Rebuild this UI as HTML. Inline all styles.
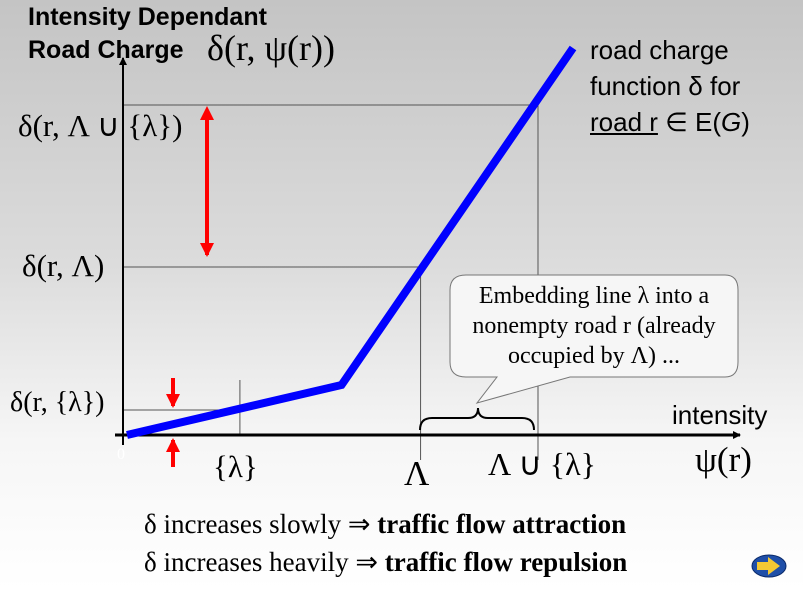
<!DOCTYPE html>
<html><head><meta charset="utf-8"><style>
body{margin:0;}
#slide{position:relative;width:803px;height:589px;overflow:hidden;background:linear-gradient(to bottom,#c4c4c4 0%,#dcdcdc 45%,#f6f6f6 75%,#ffffff 100%);font-family:"Liberation Serif",serif;}
.t{position:absolute;white-space:nowrap;color:#000;}
.sans{font-family:"Liberation Sans",sans-serif;}
</style></head><body>
<div id="slide">
<div class="t sans" style="left:28px;top:3px;font-size:25px;font-weight:bold;">Intensity Dependant</div>
<div class="t sans" style="left:28px;top:36px;font-size:25px;font-weight:bold;">Road Charge</div>
<div class="t" style="left:207px;top:27px;font-size:36px;">δ(r, ψ(r))</div>
<div class="t sans" style="left:590px;top:32px;font-size:26px;line-height:36px;">road charge<br>function δ for<br><u>road r</u> ∈ E(<i>G</i>)</div>
<div class="t" style="left:18px;top:108px;font-size:31px;">δ(r, Λ ∪ {λ})</div>
<div class="t" style="left:22px;top:248px;font-size:31px;">δ(r, Λ)</div>
<div class="t" style="left:10px;top:387px;font-size:28px;">δ(r, {λ})</div>
<div class="t" style="left:117px;top:446px;font-size:16px;color:#fff;">0</div>
<div class="t" style="left:213px;top:449px;font-size:31px;">{λ}</div>
<div class="t" style="left:404px;top:454px;font-size:35px;">Λ</div>
<div class="t" style="left:488px;top:445px;font-size:32px;">Λ ∪ {λ}</div>
<div class="t" style="left:695px;top:440px;font-size:35px;">ψ(r)</div>
<div class="t sans" style="left:672px;top:400px;font-size:26px;">intensity</div>
<div class="t" style="left:144px;top:509px;font-size:27px;">δ increases slowly ⇒ <b>traffic flow attraction</b></div>
<div class="t" style="left:144px;top:547px;font-size:27px;">δ increases heavily ⇒ <b>traffic flow repulsion</b></div>
<svg id="chart" width="803" height="589" style="position:absolute;left:0;top:0">
<defs>
<marker id="ah" markerWidth="8" markerHeight="8" refX="7" refY="4" orient="auto" markerUnits="userSpaceOnUse" viewBox="0 0 8 8"><path d="M0,0L8,4L0,8z" fill="#000"/></marker>
<marker id="rh" markerWidth="14" markerHeight="14" refX="12" refY="7" orient="auto" markerUnits="userSpaceOnUse" viewBox="0 0 14 14"><path d="M0,0L14,7L0,14z" fill="#f00"/></marker>
<marker id="rs" markerWidth="14" markerHeight="14" refX="2" refY="7" orient="auto-start-reverse" markerUnits="userSpaceOnUse" viewBox="0 0 14 14"><path d="M0,0L14,7L0,14z" fill="#f00"/></marker>
</defs>
<g id="guides"></g>
<line x1="123" y1="445" x2="123" y2="58" stroke="#000" stroke-width="2" marker-end="url(#ah)"/>
<line x1="115" y1="435" x2="740" y2="435" stroke="#000" stroke-width="3" marker-end="url(#ah)"/>
<polyline id="curve" fill="none" stroke="#0000ff" stroke-width="8" stroke-linejoin="miter"/>
<line x1="207" y1="118" x2="207" y2="255" stroke="#f00" stroke-width="4" marker-end="url(#rh)" marker-start="url(#rs)"/>
<line x1="173" y1="378" x2="173" y2="406" stroke="#f00" stroke-width="4" marker-end="url(#rh)"/>
<line x1="173" y1="467" x2="173" y2="440" stroke="#f00" stroke-width="4" marker-end="url(#rh)"/>
<path d="M420,430 Q420,418 432,418 L468,418 Q478,418 478,408 Q478,418 488,418 L522,418 Q534,418 534,430" fill="none" stroke="#000" stroke-width="2"/>
<path d="M466,275 L725,275 Q738,275 738,290 L738,362 Q738,377 725,377 L570,377 L477,403 L497,377 L466,377 Q450,377 450,362 L450,290 Q450,275 466,275 Z" fill="#f6f6f6" stroke="#777" stroke-width="1"/>
<text x="594" y="303" font-family="Liberation Serif, serif" font-size="24" text-anchor="middle">Embedding line λ into a</text>
<text x="594" y="333" font-family="Liberation Serif, serif" font-size="24" text-anchor="middle">nonempty road r (already</text>
<text x="594" y="363" font-family="Liberation Serif, serif" font-size="24" text-anchor="middle">occupied by Λ)  ...</text>
<g><ellipse cx="769" cy="566" rx="17" ry="11" fill="#1f4fa8" stroke="#0a2a6a"/><path d="M757,562 L768,562 L768,557 L780,566 L768,575 L768,570 L757,570 Z" fill="#f3c833"/></g>
</svg>
</div>
<script>
const xVals=[0,190,395];
const yVals=[0,50,387];
const guideX=[100,260,364];
const guideY=[25,168,330];
function sx(v){return 127+v*(573-127)/395;}
function sy(v){return 435-v*(435-48)/387;}
const c=document.getElementById('curve');
c.setAttribute('points',xVals.map((x,i)=>sx(x)+','+sy(yVals[i])).join(' '));
const g=document.getElementById('guides');
const ns='http://www.w3.org/2000/svg';
guideY.forEach((y,i)=>{const l=document.createElementNS(ns,'line');
l.setAttribute('x1',123);l.setAttribute('x2',sx(guideX[i])+(i==0?2:0));l.setAttribute('y1',sy(y));l.setAttribute('y2',sy(y));
l.setAttribute('stroke','#555');l.setAttribute('stroke-width','1');


g.appendChild(l);
const v=document.createElementNS(ns,'line');
v.setAttribute('x1',sx(guideX[i]));v.setAttribute('x2',sx(guideX[i]));v.setAttribute('y1',i==0?380:sy(y));v.setAttribute('y2',i==0?435:460);
v.setAttribute('stroke','#555');v.setAttribute('stroke-width','1');


g.appendChild(v);});
</script>
</body></html>
